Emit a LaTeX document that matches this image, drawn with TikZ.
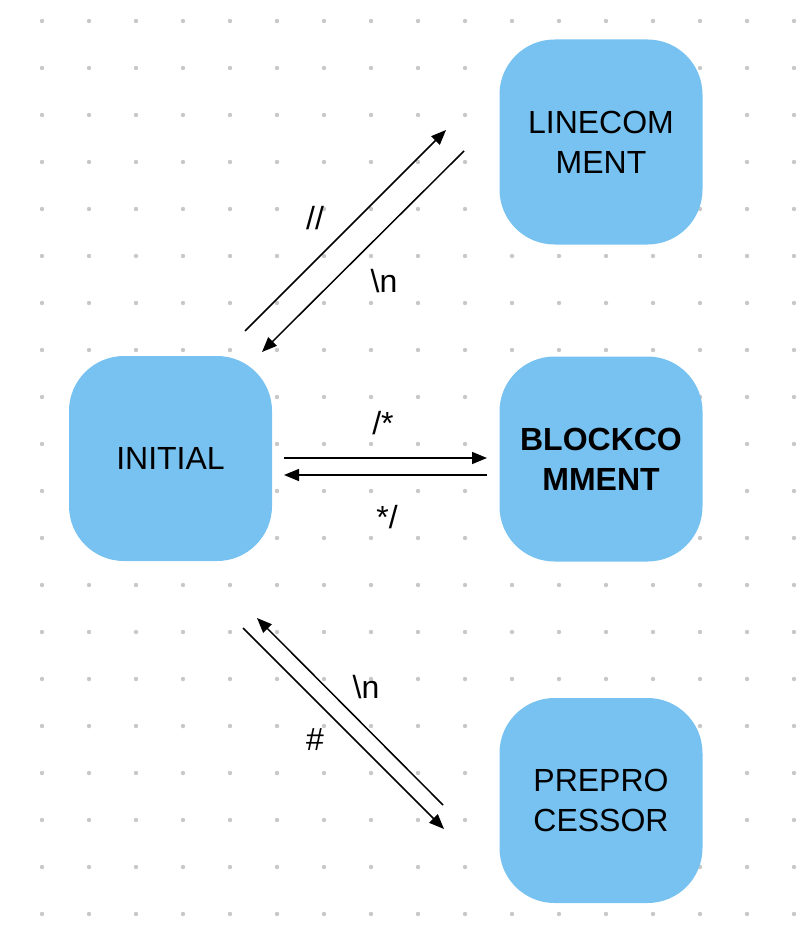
\documentclass[tikz,border=0pt]{standalone}
\usepackage{fontspec}
\setmainfont{Liberation Sans}
\usetikzlibrary{arrows.meta}
\definecolor{boxblue}{HTML}{77C2F0}
\definecolor{dotgray}{HTML}{C8C8C8}
\begin{document}
\begin{tikzpicture}[x=1pt,y=-1pt,
  state/.style={fill=boxblue, rounded corners=55pt, minimum width=203pt, minimum height=205pt, inner sep=0pt, align=center, font=\fontsize{32}{40}\selectfont},
  trans/.style={line width=1.5pt, -{Triangle[length=15pt,width=12pt]}},
  lbl/.style={inner sep=0pt, font=\fontsize{32}{38}\selectfont}]
\useasboundingbox (0,0) rectangle (810,947);
\foreach \i in {0,...,16} \foreach \j in {0,...,19} \fill[dotgray] (42+47*\i, 21+47*\j) circle (2.2pt);
\node[state] (line) at (601,142) {LINECOM\\MENT};
\node[state] (init) at (170.5,458.5) {INITIAL};
\node[state, font=\fontsize{32}{40}\selectfont\bfseries] (block) at (601,459) {BLOCKCO\\MMENT};
\node[state] (pre) at (601,800.5) {PREPRO\\CESSOR};
% top pair
\coordinate (a1s) at (245,331); \coordinate (a1e) at (446,130);
\coordinate (a2s) at (464,151); \coordinate (a2e) at (262,352);
\draw[trans] (a1s) -- (a1e);
\draw[trans] (a2s) -- (a2e);
\node[lbl] (l1) at (315,218) {//};
\node[lbl] (l2) at (384,281) {\textbackslash n};
% middle pair
\coordinate (b1s) at (284,458); \coordinate (b1e) at (487,458);
\coordinate (b2s) at (487,475); \coordinate (b2e) at (284,475);
\draw[trans] (b1s) -- (b1e);
\draw[trans] (b2s) -- (b2e);
\node[lbl] (l3) at (383,423) {/*};
\node[lbl] (l4) at (387,517) {*/};
% bottom pair
\coordinate (c1s) at (243,628); \coordinate (c1e) at (444,829);
\coordinate (c2s) at (443,805); \coordinate (c2e) at (257,618);
\draw[trans] (c1s) -- (c1e);
\draw[trans] (c2s) -- (c2e);
\node[lbl] (l5) at (366,687) {\textbackslash n};
\node[lbl] (l6) at (315,740) {\#};
\end{tikzpicture}
\end{document}
